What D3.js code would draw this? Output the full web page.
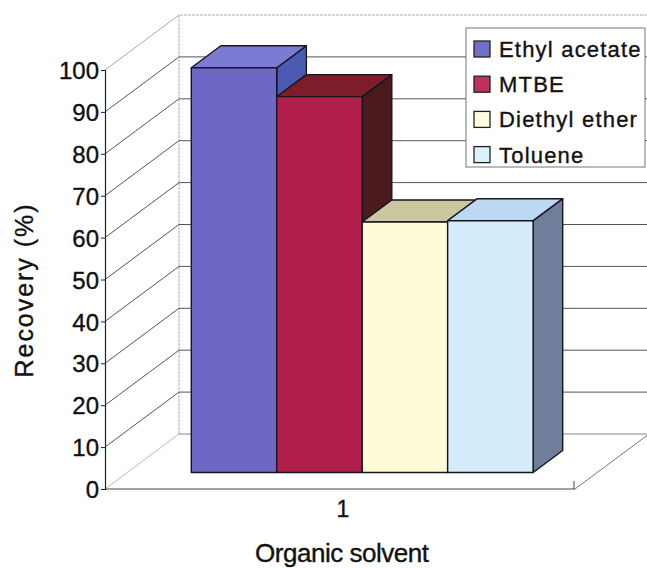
<!DOCTYPE html>
<html>
<head>
<meta charset="utf-8">
<script src="https://cdn.jsdelivr.net/npm/d3@7"></script>
<style>
  html, body { margin: 0; padding: 0; background: #fff; }
  svg { display: block; }
  text { font-family: "Liberation Sans", Arial, sans-serif; fill: #111; stroke: #111; stroke-width: 0.35px; }
</style>
</head>
<body>
<svg id="chart" width="647" height="568"></svg>
<script>
// Recovery of the analyte with four extraction solvents
const categories = ["1"];
const series = ["Ethyl acetate", "MTBE", "Diethyl ether", "Toluene"];
const recovery = [96.6, 89.7, 59.8, 60.1];
const yTicks = [0, 10, 20, 30, 40, 50, 60, 70, 80, 90, 100];

// face colours per series: front, top, side
const frontColors = ["#6d67c6", "#b21f4a", "#fffbd9", "#d5ecfa"];
const topColors   = ["#7b7bd3", "#7d1d2c", "#c9c8a1", "#bcd9f1"];
const sideColors  = ["#4b5ab3", "#4b1a1f", "#a9a884", "#707e9b"];
const legendColors = ["#6f71c9", "#c0305a", "#fffce2", "#dbf1ff"];

const svg = d3.select("#chart");

// front-plane scales
const y = d3.scaleLinear().domain([0, 100]).range([489, 70]);
const x = d3.scaleBand().domain(categories).range([105, 575]);
// depth: 0 = front edge of the floor, 1 = back wall
const depthX = d3.scaleLinear().domain([0, 1]).range([0, 74]);
const depthY = d3.scaleLinear().domain([0, 1]).range([0, -55]);
const P = (px, v, z) => [px + depthX(z), y(v) + depthY(z)];
const poly = pts => "M" + pts.map(p => p.join(",")).join("L") + "Z";

const xL = x.range()[0], xR = x.range()[1];

// floor
svg.append("path")
  .attr("d", poly([P(xL, 0, 0), P(xR, 0, 0), P(xR, 0, 1), P(xL, 0, 1)]))
  .attr("fill", "#fff").attr("stroke", "none");

// back wall and side wall outlines
const wall = svg.append("g").attr("fill", "none");
wall.append("path")
  .attr("d", "M" + P(xL, 0, 1) + "L" + P(xL, 100, 1) + "L" + P(xR, 100, 1))
  .attr("stroke", "#aaa").attr("stroke-width", 1).attr("stroke-dasharray", "3,1");
wall.append("path")
  .attr("d", "M" + P(xL, 0, 0) + "L" + P(xL, 0, 1))
  .attr("stroke", "#bbb").attr("stroke-width", 1);
wall.append("path")
  .attr("d", "M" + P(xL, 100, 0) + "L" + P(xL, 100, 1))
  .attr("stroke", "#aaa").attr("stroke-width", 1);

// gridlines: back wall horizontals and side wall diagonals
const grid = svg.append("g").attr("fill", "none").attr("stroke", "#555").attr("stroke-width", 1);
yTicks.filter(v => v > 0 && v < 100).forEach(v => {
  grid.append("path").attr("d", "M" + P(xL, v, 1) + "L" + P(xR, v, 1));
  grid.append("path").attr("d", "M" + P(xL, v, 0) + "L" + P(xL, v, 1));
});
grid.append("path").attr("d", "M" + P(xL, 0, 1) + "L" + P(xR, 0, 1)).attr("stroke", "#888");
grid.append("path").attr("d", "M" + P(xR, 0, 0) + "L" + P(xR, 0, 1)).attr("stroke", "#777");

// front floor edge and value axis
svg.append("path").attr("d", "M" + P(xL, 0, 0) + "L" + P(xR, 0, 0))
  .attr("stroke", "#444").attr("stroke-width", 1.2).attr("fill", "none");
svg.append("path").attr("d", "M" + [xR - 1, y(0) - 8] + "L" + [xR - 1, y(0)])
  .attr("stroke", "#444").attr("stroke-width", 1).attr("fill", "none");

const yAxis = d3.axisLeft(y).tickValues(yTicks).tickSize(4).tickPadding(2).tickFormat(d3.format("d"));
const ga = svg.append("g").attr("transform", `translate(${xL},0)`).call(yAxis);
ga.select(".domain").attr("stroke", "#222").attr("stroke-width", 1.2);
ga.selectAll(".tick line").attr("stroke", "#222");
ga.selectAll(".tick text")
  .attr("font-size", 24).attr("font-family", "Liberation Sans, Arial, sans-serif")
  .attr("fill", "#111").attr("dy", "0.36em");

// bars
const zFront = 0.3, zBack = 0.7;
const cat = categories[0];
const gapShare = 0.75; // half of the 150% gap on each side
const barW = x.bandwidth() / (series.length + 2 * gapShare);
const s = d3.scaleBand().domain(series)
  .range([x(cat) + gapShare * barW, x(cat) + x.bandwidth() - gapShare * barW]);

const bars = svg.append("g").attr("stroke", "#151520").attr("stroke-width", 1.4).attr("stroke-linejoin", "round");
series.forEach((name, i) => {
  const v = recovery[i];
  const x0 = s(name), x1 = s(name) + s.bandwidth();
  const g = bars.append("g");
  // side face
  g.append("path")
    .attr("d", poly([P(x1, 0, zFront), P(x1, 0, zBack), P(x1, v, zBack), P(x1, v, zFront)]))
    .attr("fill", sideColors[i]);
  // top face
  g.append("path")
    .attr("d", poly([P(x0, v, zFront), P(x1, v, zFront), P(x1, v, zBack), P(x0, v, zBack)]))
    .attr("fill", topColors[i]);
  // front face
  g.append("path")
    .attr("d", poly([P(x0, 0, zFront), P(x1, 0, zFront), P(x1, v, zFront), P(x0, v, zFront)]))
    .attr("fill", frontColors[i]);
});

// category label
svg.append("text")
  .attr("x", x(cat) + x.bandwidth() / 2 + 3).attr("y", 517)
  .attr("text-anchor", "middle").attr("font-size", 23)
  .text(cat);

// axis titles
svg.append("text")
  .attr("x", 342).attr("y", 562)
  .attr("text-anchor", "middle").attr("font-size", 26)
  .attr("textLength", 174).attr("lengthAdjust", "spacing")
  .text("Organic solvent");
svg.append("text")
  .attr("transform", "translate(33,291) rotate(-90)")
  .attr("text-anchor", "middle").attr("font-size", 25)
  .attr("textLength", 173).attr("lengthAdjust", "spacing")
  .text("Recovery (%)");

// legend
const legend = svg.append("g").attr("transform", "translate(466,28)");
legend.append("rect")
  .attr("width", 179).attr("height", 139)
  .attr("fill", "#fff").attr("stroke", "#777").attr("stroke-width", 1);
series.forEach((name, i) => {
  const row = legend.append("g").attr("transform", `translate(8,${13 + i * 35.2})`);
  row.append("rect").attr("width", 16).attr("height", 16)
    .attr("fill", legendColors[i]).attr("stroke", "#222").attr("stroke-width", 1.3);
  row.append("text").attr("x", 25).attr("y", 16)
    .attr("font-size", 22).attr("letter-spacing", "1.2px")
    .text(name);
});
</script>
</body>
</html>
